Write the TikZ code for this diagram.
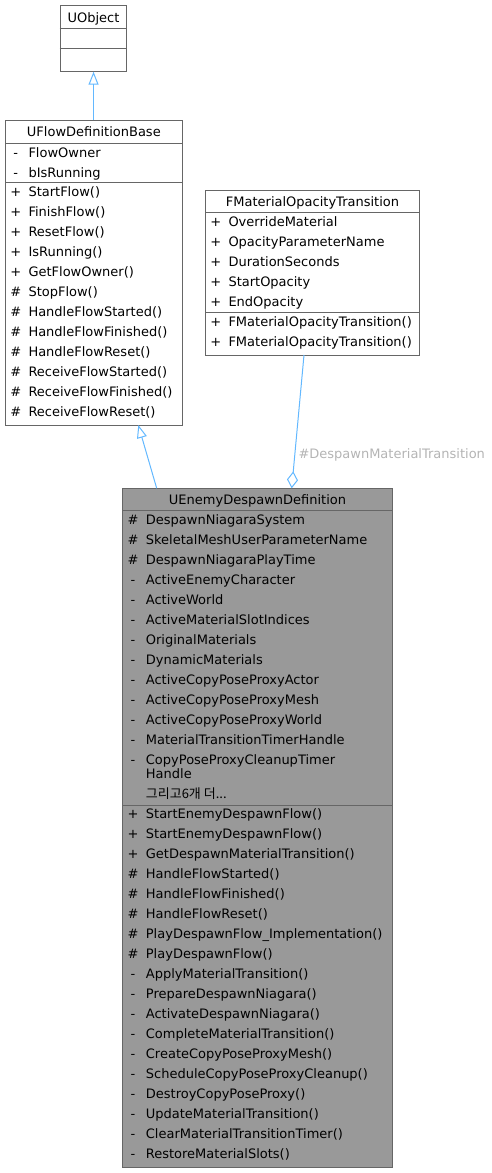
\documentclass[tikz,border=0pt]{standalone}
\usepackage{fontspec}
\setmainfont{DejaVu Sans}
\newfontfamily\krfont{Noto Sans CJK KR}
\usetikzlibrary{arrows.meta}
\definecolor{boxline}{HTML}{666666}
\definecolor{mainfill}{HTML}{999999}
\definecolor{edgeblue}{HTML}{63B8FF}
\definecolor{labelgray}{HTML}{B4B4B4}

\begin{document}
\begin{tikzpicture}[x=1pt,y=-1pt,font=\fontsize{13}{14}\selectfont,
  classbox/.style={draw=boxline,line width=1pt,fill=white,inner sep=0pt,anchor=north west},
  mainbox/.style={classbox,fill=mainfill},
  divider/.style={draw=boxline,line width=1pt},
  vis/.style={inner sep=0pt,anchor=base},
  member/.style={inner sep=0pt,anchor=base west},
  title/.style={inner sep=0pt,anchor=base},
  edge/.style={draw=edgeblue,line width=1pt}]
  \useasboundingbox (0,0) rectangle (492,1173);

  % UObject
  \node[classbox,minimum width=66.7pt,minimum height=66pt] (uobj) at (59.7,4.7) {};
  \draw[divider] (uobj.west |- 0,28.7) -- (uobj.east |- 0,28.7);
  \draw[divider] (uobj.west |- 0,48.7) -- (uobj.east |- 0,48.7);
  \node[title] (uobjT) at (uobj.center |- 0,22) {UObject};

  % UFlowDefinitionBase
  \node[classbox,minimum width=176.7pt,minimum height=305pt] (base) at (5,120) {};
  \draw[divider] (base.west |- 0,143.3) -- (base.east |- 0,143.3);
  \draw[divider] (base.west |- 0,182.7) -- (base.east |- 0,182.7);
  \node[title] (baseT) at (base.center |- 0,136.4) {UFlowDefinitionBase};
  \foreach \s/\t [count=\i from 0] in {-/FlowOwner,-/bIsRunning}
  {
    \node[vis] (baseAv\i) at (15.8,{157.4+20*\i}) {\s};
    \node[member] (baseA\i) at (28.3,{157.4+20*\i}) {\t};
  }
  \foreach \s/\t [count=\i from 0] in {+/StartFlow(),+/FinishFlow(),+/ResetFlow(),
    +/IsRunning(),+/GetFlowOwner(),\#/StopFlow(),\#/HandleFlowStarted(),
    \#/HandleFlowFinished(),\#/HandleFlowReset(),\#/ReceiveFlowStarted(),
    \#/ReceiveFlowFinished(),\#/ReceiveFlowReset()}
  {
    \node[vis] (baseMv\i) at (15.8,{196.4+20*\i}) {\s};
    \node[member] (baseM\i) at (28.3,{196.4+20*\i}) {\t};
  }

  % FMaterialOpacityTransition
  \node[classbox,minimum width=214pt,minimum height=165pt] (fmat) at (205,190) {};
  \draw[divider] (fmat.west |- 0,212.7) -- (fmat.east |- 0,212.7);
  \draw[divider] (fmat.west |- 0,312.3) -- (fmat.east |- 0,312.3);
  \node[title] (fmatT) at (fmat.center |- 0,206.4) {FMaterialOpacityTransition};
  \foreach \t [count=\i from 0] in {OverrideMaterial,OpacityParameterName,
    DurationSeconds,StartOpacity,EndOpacity}
  {
    \node[vis] (fmatAv\i) at (215.8,{226.4+20*\i}) {+};
    \node[member] (fmatA\i) at (228.3,{226.4+20*\i}) {\t};
  }
  \foreach \i in {0,1}
  {
    \node[vis] (fmatMv\i) at (215.8,{326.4+20*\i}) {+};
    \node[member] (fmatM\i) at (228.3,{326.4+20*\i}) {FMaterialOpacityTransition()};
  }

  % UEnemyDespawnDefinition
  \node[mainbox,minimum width=269.4pt,minimum height=679pt] (main) at (122.3,488.3) {};
  \draw[divider] (main.west |- 0,510) -- (main.east |- 0,510);
  \draw[divider] (main.west |- 0,805.7) -- (main.east |- 0,805.7);
  \node[title] (mainT) at (main.center |- 0,504) {UEnemyDespawnDefinition};
  \foreach \s/\t [count=\i from 0] in {\#/DespawnNiagaraSystem,
    \#/SkeletalMeshUserParameterName,\#/DespawnNiagaraPlayTime,
    -/ActiveEnemyCharacter,-/ActiveWorld,-/ActiveMaterialSlotIndices,
    -/OriginalMaterials,-/DynamicMaterials,-/ActiveCopyPoseProxyActor,
    -/ActiveCopyPoseProxyMesh,-/ActiveCopyPoseProxyWorld,
    -/MaterialTransitionTimerHandle,-/CopyPoseProxyCleanupTimer}
  {
    \node[vis] (mainAv\i) at (133,{524+20*\i}) {\s};
    \node[member] (mainA\i) at (145.7,{524+20*\i}) {\t};
  }
  \node[member] (mainA13) at (145.7,778.5) {Handle};
  \node[member] (mainMore) at (145.7,798.3) {\krfont 그리고6개 더...};
  \foreach \s/\t [count=\i from 0] in {+/StartEnemyDespawnFlow(),
    +/StartEnemyDespawnFlow(),+/GetDespawnMaterialTransition(),
    \#/HandleFlowStarted(),\#/HandleFlowFinished(),\#/HandleFlowReset(),
    \#/PlayDespawnFlow\_Implementation(),\#/PlayDespawnFlow(),
    -/ApplyMaterialTransition(),-/PrepareDespawnNiagara(),
    -/ActivateDespawnNiagara(),-/CompleteMaterialTransition(),
    -/CreateCopyPoseProxyMesh(),-/ScheduleCopyPoseProxyCleanup(),
    -/DestroyCopyPoseProxy(),-/UpdateMaterialTransition(),
    -/ClearMaterialTransitionTimer(),-/RestoreMaterialSlots()}
  {
    \node[vis] (mainMv\i) at (133,{818.7+20*\i}) {\s};
    \node[member] (mainM\i) at (145.7,{818.7+20*\i}) {\t};
  }

  % connectors
  \coordinate (mainIn) at (156.7,488.3);
  \coordinate (baseOut) at (138.3,425);
  \coordinate (fmatOut) at (304,355);
  \coordinate (mainAgg) at (291.7,488.3);
  \draw[edge,-{Triangle[open,length=13pt,width=10pt]}] (uobj.south |- base.north) -- (uobj.south);
  \draw[edge,-{Triangle[open,length=13pt,width=10pt]}] (mainIn) -- (baseOut);
  \draw[edge,-{Diamond[open,length=17pt,width=11pt]}] (fmatOut) -- (mainAgg);
  \node[anchor=west,inner sep=0pt,text=labelgray] (aggLabel) at (298.3,455.3) {\#DespawnMaterialTransition};
\end{tikzpicture}
\end{document}
